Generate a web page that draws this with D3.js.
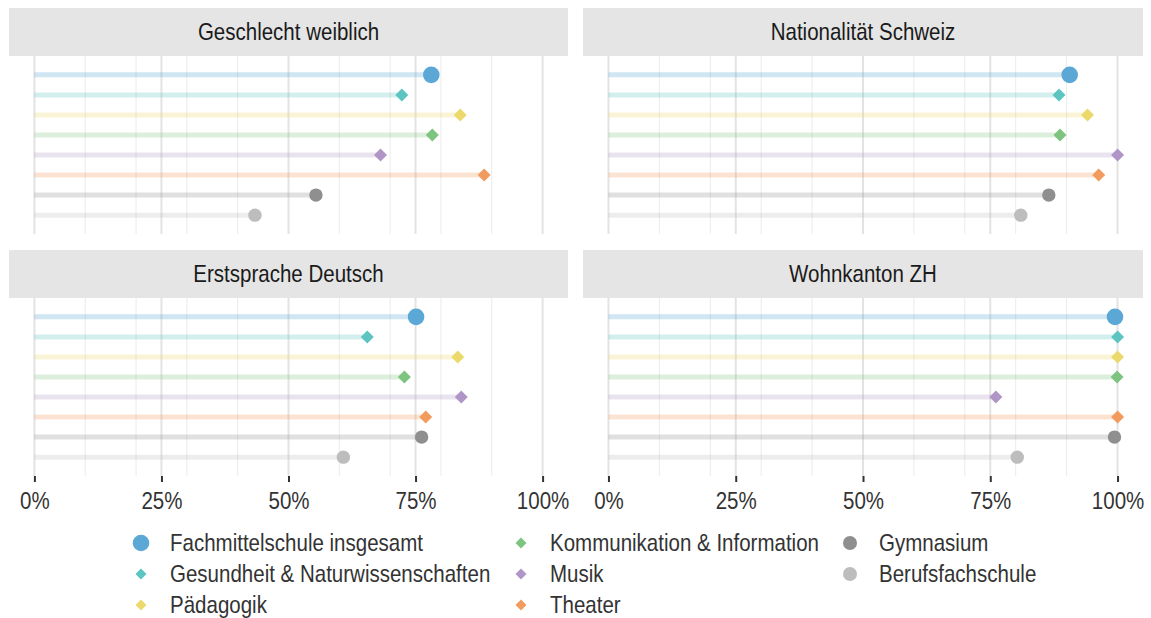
<!DOCTYPE html>
<html>
<head>
<meta charset="utf-8">
<script src="https://cdn.jsdelivr.net/npm/d3@7"></script>
<style>
    body { margin: 0; background: #fff; }
    text { font-family: "Liberation Sans", Arial, sans-serif; }
</style>
</head>
<body>
<svg id="chart" width="1151" height="618"></svg>
<script>
// categories (top to bottom)
var schools = ["Fachmittelschule insgesamt", "Gesundheit & Naturwissenschaften", "Pädagogik",
    "Kommunikation & Information", "Musik", "Theater", "Gymnasium", "Berufsfachschule"];
var colors = ["#5ba7d5", "#5cc4c1", "#ecd96c", "#7dc480", "#b096c6", "#f29b5f", "#8f8f8f", "#bdbdbd"];
var shapes = ["bigcircle", "diamond", "diamond", "diamond", "diamond", "diamond", "circle", "circle"];

var panels = ["Geschlecht weiblich", "Nationalität Schweiz", "Erstsprache Deutsch", "Wohnkanton ZH"];

// share in percent, same order as schools
var weiblich = [78.1, 72.3, 83.8, 78.3, 68.1, 88.5, 55.4, 43.4];
var schweiz = [90.6, 88.5, 94.1, 88.7, 100, 96.3, 86.5, 81.0];
var deutsch = [75.1, 65.5, 83.3, 72.8, 84.0, 77.0, 76.2, 60.8];
var zuerich = [99.5, 100, 100, 99.9, 76.1, 100, 99.4, 80.3];

var majorTicks = [0, 25, 50, 75, 100];
var minorTicks = [10, 20, 30, 40, 60, 70, 80, 90];

var values = [weiblich, schweiz, deutsch, zuerich];

var svg = d3.select("#chart");

// panel boxes: [left, right] x and [stripTop, plotTop, plotBottom] y
var cols = [[9, 568], [583, 1143]];
var rows = [[8, 56, 234], [250, 298, 476]];

// the original uses a narrow font, squeeze Liberation Sans to match
var squeeze = 0.855;

function narrowText(g, x, y, str, anchor, color) {
    return g.append("text")
        .attr("transform", "translate(" + x + "," + y + ") scale(" + squeeze + ",1)")
        .attr("text-anchor", anchor)
        .style("font-size", "24px")
        .attr("fill", color)
        .text(str);
}

function drawShape(g, shape, x, y, color, legend) {
    if (shape == "diamond") {
        var s = legend ? 5.5 : 6.5;
        g.append("path")
            .attr("d", "M" + x + "," + (y - s) + "L" + (x + s) + "," + y + "L" + x + "," + (y + s) + "L" + (x - s) + "," + y + "Z")
            .attr("fill", color);
    } else {
        g.append("circle")
            .attr("cx", x)
            .attr("cy", y)
            .attr("r", shape == "bigcircle" ? 8.3 : (legend ? 7 : 6.7))
            .attr("fill", color);
    }
}

panels.forEach(function (title, p) {
    var c = cols[p % 2], r = rows[Math.floor(p / 2)];
    var g = svg.append("g");

    var x = d3.scaleLinear().domain([-5, 105]).range([c[0], c[1]]);
    var y = d3.scalePoint().domain(schools).range([r[1], r[2]]).padding(0.94);

    // strip
    g.append("rect")
        .attr("x", c[0]).attr("y", r[0])
        .attr("width", c[1] - c[0]).attr("height", r[1] - r[0])
        .attr("fill", "#e5e5e5");
    narrowText(g, (c[0] + c[1]) / 2, (r[0] + r[1]) / 2 + 8, title, "middle", "#1a1a1a");

    // grid
    g.selectAll(".minor").data(minorTicks).enter().append("line")
        .attr("x1", function (d) { return x(d); })
        .attr("x2", function (d) { return x(d); })
        .attr("y1", r[1]).attr("y2", r[2])
        .attr("stroke", "#ebebeb").attr("stroke-width", 1);
    g.selectAll(".major").data(majorTicks).enter().append("line")
        .attr("x1", function (d) { return x(d); })
        .attr("x2", function (d) { return x(d); })
        .attr("y1", r[1]).attr("y2", r[2])
        .attr("stroke", "#e3e3e3").attr("stroke-width", 2);

    // lollipop sticks
    g.selectAll(".stick").data(values[p]).enter().append("line")
        .attr("x1", x(0))
        .attr("x2", function (d) { return x(d); })
        .attr("y1", function (d, i) { return y(schools[i]); })
        .attr("y2", function (d, i) { return y(schools[i]); })
        .attr("stroke", function (d, i) { return colors[i]; })
        .attr("stroke-opacity", 0.28)
        .attr("stroke-width", 5);

    values[p].forEach(function (v, i) {
        drawShape(g, shapes[i], x(v), y(schools[i]), colors[i], false);
    });

    // x axis only under the bottom row
    if (p >= 2) {
        var axis = d3.axisBottom(x)
            .tickValues(majorTicks)
            .tickSize(6)
            .tickFormat("");
        var ax = g.append("g")
            .attr("transform", "translate(0," + r[2] + ")")
            .call(axis);
        ax.select(".domain").remove();
        ax.selectAll(".tick line").attr("stroke", "#333").attr("stroke-width", 2);
        ax.selectAll(".tick").each(function (d) {
            narrowText(d3.select(this), 0, 33, d + "%", "middle", "#333");
        });
    }
});

// legend: three columns, filled top-down
var legendCols = [141, 521, 850];
var legendRows = [543, 574, 605];
var legendIdx = [[0, 0], [0, 1], [0, 2], [1, 0], [1, 1], [1, 2], [2, 0], [2, 1]];

var legend = svg.append("g");
schools.forEach(function (name, i) {
    var lx = legendCols[legendIdx[i][0]], ly = legendRows[legendIdx[i][1]];
    drawShape(legend, shapes[i], lx, ly, colors[i], true);
    narrowText(legend, lx + 29, ly + 8, name, "start", "#333");
});
</script>
</body>
</html>
